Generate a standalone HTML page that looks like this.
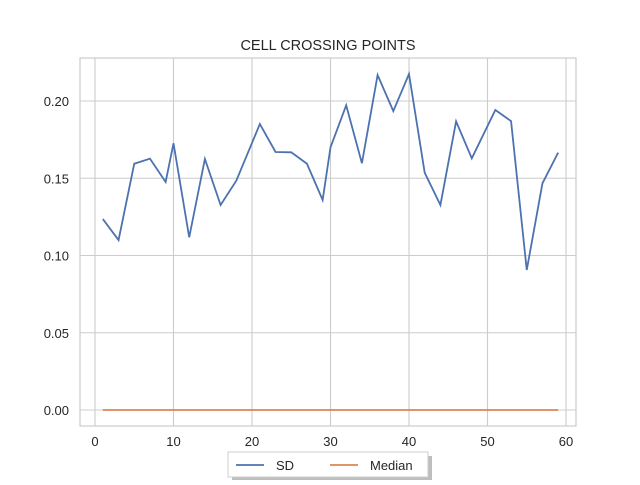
<!DOCTYPE html>
<html><head><meta charset="utf-8"><style>
body{margin:0;background:#fff;}
svg{font-family:"Liberation Sans","DejaVu Sans",sans-serif;}
</style></head><body>
<svg id="chart" width="640" height="480">
<rect width="640" height="480" fill="#fff"/>
<text x="328" y="50" text-anchor="middle" font-size="14.5" fill="#262626">CELL CROSSING POINTS</text>
<g id="grid"></g>
<rect x="80" y="58" width="496" height="368" fill="none" stroke="#cccccc" stroke-width="1.2"/>
<g id="ticks"></g>
<g id="series"></g>
<g>
<rect x="232" y="456" width="200" height="25" fill="#888" opacity="0.55"/>
<rect x="228" y="452" width="200" height="25" fill="#fff" stroke="#cccccc"/>
<line x1="236" y1="465" x2="264" y2="465" stroke="#4c72b0" stroke-width="1.8"/>
<text x="276" y="470" font-size="13" fill="#262626">SD</text>
<line x1="330" y1="465" x2="358" y2="465" stroke="#dd8452" stroke-width="1.8"/>
<text x="370" y="470" font-size="13" fill="#262626">Median</text>
</g>
</svg>
<script>
const xValues=[1,3,5,7,9,10,12,14,16,18,21,23,25,27,29,30,32,34,36,38,40,42,44,46,48,51,53,55,57,59];
const sdValues=[0.1236,0.110,0.1594,0.1627,0.1476,0.1726,0.1118,0.1625,0.1327,0.1484,0.1851,0.167,0.1668,0.1594,0.1359,0.170,0.1972,0.1597,0.2168,0.1935,0.2175,0.1536,0.1327,0.1868,0.1629,0.1942,0.187,0.0906,0.1467,0.1666];
const medianValues=xValues.map(()=>0);
const xTicks=[0,10,20,30,40,50,60];
const yTicks=[0.00,0.05,0.10,0.15,0.20];
const yTickLabels=["0.00","0.05","0.10","0.15","0.20"];
const X=v=>95+v*7.85;
const Y=v=>410-v*1545;
const NS="http://www.w3.org/2000/svg";
function mk(parent,tag,attrs){const e=document.createElementNS(NS,tag);for(const k in attrs)e.setAttribute(k,attrs[k]);document.getElementById(parent).appendChild(e);return e;}
xTicks.forEach(t=>{
 const l=mk('grid','line',{x1:X(t),x2:X(t),y1:58,y2:426,stroke:'#cccccc','stroke-width':1.1});
 
 
 const tx=mk('ticks','text',{x:X(t),y:446,'text-anchor':'middle','font-size':13,fill:'#262626'});
 tx.textContent=t;
 
 
});
yTicks.forEach((t,i)=>{
 const l=mk('grid','line',{x1:80,x2:576,y1:Y(t),y2:Y(t),stroke:'#cccccc','stroke-width':1.1});
 
 
 const tx=mk('ticks','text',{x:69,y:Y(t)+5,'text-anchor':'end','font-size':13,fill:'#262626'});
 tx.textContent=yTickLabels[i];
 
 
});
const sd=mk('series','polyline',{points:xValues.map((x,i)=>X(x)+','+Y(sdValues[i])).join(' '),fill:'none',stroke:'#4c72b0','stroke-width':1.8});


const md=mk('series','polyline',{points:xValues.map((x,i)=>X(x)+','+Y(medianValues[i])).join(' '),fill:'none',stroke:'#dd8452','stroke-width':1.8});


</script>
</body></html>
